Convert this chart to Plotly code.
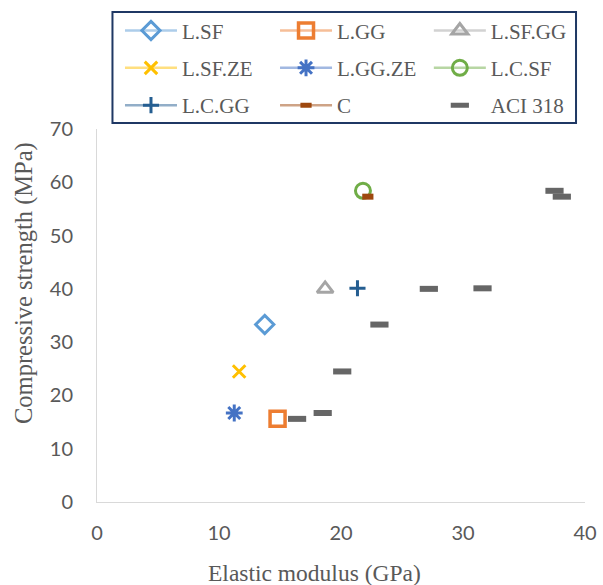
import plotly.graph_objects as go

# Data
mix_names = ["L.SF", "L.GG", "L.SF.GG", "L.SF.ZE", "L.GG.ZE", "L.C.SF", "L.C.GG", "C"]
elastic_modulus = [13.75, 14.8, 18.7, 11.65, 11.25, 21.8, 21.35, 22.2]
compressive_strength = [33.3, 15.6, 40.0, 24.5, 16.7, 58.4, 40.1, 57.3]
aci_modulus = [23.15, 16.4, 27.2, 20.1, 18.5, 37.5, 31.6, 38.1]
aci_strength = [33.3, 15.6, 40.0, 24.5, 16.7, 58.4, 40.1, 57.3]
x_ticks = [0, 10, 20, 30, 40]
y_ticks = [0, 10, 20, 30, 40, 50, 60, 70]
x_title = "Elastic modulus (GPa)"
y_title = "Compressive strength (MPa)"

# Styles
colors = ["#5B9BD5", "#ED7D31", "#A5A5A5", "#FFC000", "#4472C4", "#70AD47", "#255E91", "#9E480E"]
line_colors = ["rgba(91,155,213,0.5)", "rgba(237,125,49,0.5)", "rgba(165,165,165,0.5)",
               "rgba(255,192,0,0.5)", "rgba(68,114,196,0.5)", "rgba(112,173,71,0.5)",
               "rgba(37,94,145,0.5)", "rgba(158,72,14,0.5)"]
symbols = ["diamond-open", "square-open", "triangle-up-open", "x-thin-open",
           "asterisk-open", "circle-open", "cross-thin-open", "line-ew-open"]
sizes = [14, 15, 14, 12.5, 14, 15, 11.5, 8]
widths = [3, 3.5, 3, 3, 3, 3, 3, 6]
legend_ids = ["legend", "legend2", "legend3", "legend", "legend2", "legend3", "legend", "legend2"]

fig = go.Figure()
for i, name in enumerate(mix_names):
    fig.add_trace(go.Scatter(
        x=[elastic_modulus[i]], y=[compressive_strength[i]], name=name,
        mode="lines+markers",
        line=dict(color=line_colors[i], width=2.5),
        marker=dict(symbol=symbols[i], size=sizes[i], color=colors[i],
                    line=dict(color=colors[i], width=widths[i])),
        legend=legend_ids[i], legendgroup=name,
    ))

fig.add_trace(go.Scatter(
    x=aci_modulus, y=aci_strength, name="ACI 318", mode="markers",
    marker=dict(symbol="line-ew-open", size=13, color="#666666",
                line=dict(color="#666666", width=6)),
    legend="legend3", legendgroup="ACI 318",
))

font_serif = "Liberation Serif"
font_sans = "Lato"
legend_common = dict(
    orientation="v", yanchor="top", xanchor="left", y=1.318,
    bgcolor="rgba(0,0,0,0)", borderwidth=0,
    font=dict(family=font_serif, size=21, color="#595959"),
    tracegroupgap=7, itemwidth=52, itemsizing="trace",
)

fig.update_layout(
    width=603, height=585,
    font=dict(family=font_serif, size=21, color="#595959"),
    margin=dict(l=97, r=18, t=129, b=83, autoexpand=False),
    paper_bgcolor="white", plot_bgcolor="white",
    showlegend=True,
    legend=dict(x=0.0471, **legend_common),
    legend2=dict(x=0.3648, **legend_common),
    legend3=dict(x=0.680, **legend_common),
    xaxis=dict(range=[0, 40], tickvals=x_ticks, showgrid=False, zeroline=False,
               showline=True, linecolor="#D9D9D9", linewidth=1,
               tickfont=dict(family=font_sans, size=20, color="#595959"),
               ticklabelstandoff=13),
    yaxis=dict(range=[0, 70], tickvals=y_ticks, showgrid=False, zeroline=False,
               showline=True, linecolor="#D9D9D9", linewidth=1,
               tickfont=dict(family=font_sans, size=20, color="#595959"),
               ticklabelstandoff=19),
    annotations=[
        dict(text=x_title, xref="paper", yref="paper", x=0.4457, y=-0.1903,
             xanchor="center", yanchor="middle", showarrow=False,
             font=dict(family=font_serif, size=23.5, color="#595959")),
        dict(text=y_title, xref="paper", yref="paper", x=-0.1486, y=0.5885,
             xanchor="center", yanchor="middle", showarrow=False, textangle=-90,
             font=dict(family=font_serif, size=24.5, color="#595959")),
    ],
    shapes=[dict(type="rect", xref="paper", yref="paper",
                 x0=0.0317, x1=0.9816, y0=1.016, y1=1.3137,
                 line=dict(color="#1F3864", width=2), fillcolor="rgba(0,0,0,0)")],
)

fig.write_html("out.html", config={"displayModeBar": False},
               post_script="document.body.style.margin='0';document.body.style.padding='0';")
